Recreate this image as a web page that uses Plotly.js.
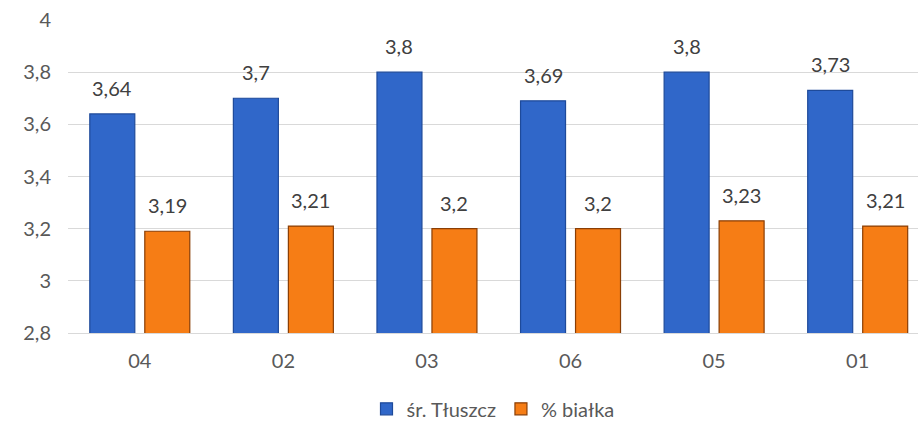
<!DOCTYPE html>
<html>
<head>
<meta charset="utf-8">
<script src="https://cdn.plot.ly/plotly-3.0.1.min.js"></script>
<style>html,body{margin:0;padding:0;background:#fff}#chart{width:918px;height:430px}</style>
</head>
<body>
<div id="chart"></div>
<script>
const categories = ["04", "02", "03", "06", "05", "01"];
const fat = [3.64, 3.7, 3.8, 3.69, 3.8, 3.73];
const protein = [3.19, 3.21, 3.2, 3.2, 3.23, 3.21];
const seriesNames = ["śr. Tłuszcz", "% białka"];
const yTicks = [2.8, 3, 3.2, 3.4, 3.6, 3.8, 4];

const fmt = v => String(v).replace('.', ',');
const font = "Lato, 'Open Sans', sans-serif";

const traces = [
  {type: 'bar', name: seriesNames[0], x: categories, y: fat,
   marker: {color: '#3067C9', line: {color: '#1E4A9A', width: 1.2}}},
  {type: 'bar', name: seriesNames[1], x: categories, y: protein,
   marker: {color: '#F67D15', line: {color: '#8A3E05', width: 1.2}}}
];

const annotations = [];
categories.forEach((c, i) => {
  annotations.push({x: i, y: fat[i], xref: 'x', yref: 'y', text: fmt(fat[i]), showarrow: false,
    xshift: -27.5, yanchor: 'bottom', yshift: 12, font: {family: font, size: 20, color: '#404040'}});
  annotations.push({x: i, y: protein[i], xref: 'x', yref: 'y', text: fmt(protein[i]), showarrow: false,
    xshift: 27.5, yanchor: 'bottom', yshift: 12, font: {family: font, size: 20, color: '#404040'}});
});

const layout = {
  width: 918, height: 430,
  margin: {l: 68, r: 0, t: 20, b: 97},
  paper_bgcolor: '#fff', plot_bgcolor: '#fff',
  barmode: 'group', bargap: 0.234, bargroupgap: 0.182,
  font: {family: font, size: 20, color: '#595959'},
  xaxis: {type: 'category', range: [-0.5, 5.42], showgrid: false, showline: true, linecolor: '#D9D9D9', linewidth: 1,
          ticks: 'outside', ticklen: 10, tickcolor: 'rgba(0,0,0,0)', tickfont: {size: 20, color: '#595959'}},
  yaxis: {range: [2.8, 4], tickvals: yTicks, ticktext: yTicks.map(fmt), showgrid: true,
          gridcolor: '#D9D9D9', gridwidth: 1, zeroline: false, showline: false,
          ticks: 'outside', ticklen: 12, tickcolor: 'rgba(0,0,0,0)', tickfont: {size: 20, color: '#595959'}},
  legend: {orientation: 'h', x: 0.5, xanchor: 'center', y: -0.18, yanchor: 'top',
           font: {size: 20, color: '#595959'}, itemwidth: 30, traceorder: 'normal'},
  annotations: annotations
};

Plotly.newPlot('chart', traces, layout, {displayModeBar: false, staticPlot: true});
</script>
</body>
</html>
